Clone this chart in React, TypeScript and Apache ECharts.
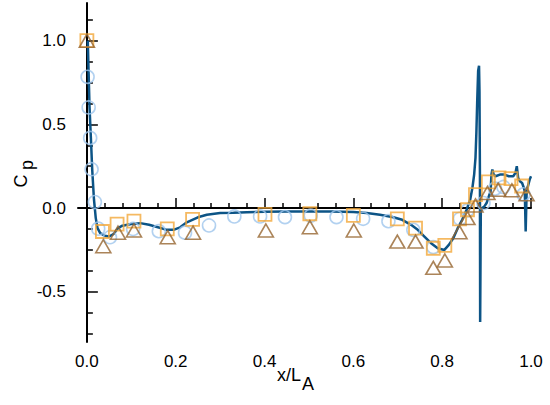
import React, { useEffect, useRef } from "react";
import * as echarts from "echarts";

// CFD pressure coefficient curve
const cfdX = [0.002, 0.004, 0.006, 0.009, 0.012, 0.016, 0.02, 0.024, 0.03, 0.04, 0.05, 0.06, 0.07, 0.08, 0.1, 0.12, 0.14, 0.16, 0.18, 0.195, 0.21, 0.225, 0.25, 0.27, 0.3, 0.33, 0.36, 0.4, 0.45, 0.5, 0.55, 0.6, 0.63, 0.66, 0.69, 0.71, 0.73, 0.745, 0.76, 0.775, 0.79, 0.805, 0.815, 0.825, 0.835, 0.845, 0.855, 0.863, 0.868, 0.872, 0.875, 0.877, 0.879, 0.881, 0.883, 0.884, 0.885, 0.8855, 0.887, 0.89, 0.895, 0.9, 0.905, 0.909, 0.911, 0.913, 0.916, 0.92, 0.93, 0.94, 0.95, 0.96, 0.965, 0.968, 0.971, 0.975, 0.98, 0.984, 0.986, 0.988, 0.99, 0.993, 0.997, 1.0];
const cfdY = [1.0, 0.8, 0.6, 0.42, 0.23, 0.05, -0.06, -0.12, -0.15, -0.165, -0.17, -0.155, -0.12, -0.105, -0.095, -0.09, -0.1, -0.115, -0.13, -0.13, -0.115, -0.085, -0.055, -0.04, -0.03, -0.028, -0.025, -0.022, -0.02, -0.02, -0.02, -0.024, -0.03, -0.04, -0.055, -0.07, -0.1, -0.13, -0.17, -0.21, -0.24, -0.25, -0.22, -0.18, -0.12, -0.07, -0.01, 0.05, 0.12, 0.2, 0.3, 0.45, 0.65, 0.82, 0.85, 0.7, 0.2, -0.68, -0.02, 0.0, 0.01, 0.03, 0.07, 0.1, 0.2, 0.23, 0.2, 0.19, 0.2, 0.2, 0.19, 0.19, 0.21, 0.25, 0.18, 0.16, 0.15, 0.12, 0.1, -0.14, 0.08, 0.13, 0.17, 0.19];

// Experiment set 1 (circles)
const circleX = [0.0016, 0.004, 0.0074, 0.0106, 0.018, 0.0255, 0.052, 0.104, 0.162, 0.221, 0.275, 0.332, 0.39, 0.446, 0.504, 0.562, 0.622, 0.679, 0.735, 0.78, 0.84, 0.857, 0.893, 0.919, 0.938, 0.983];
const circleY = [0.784, 0.601, 0.419, 0.232, 0.036, -0.123, -0.174, -0.125, -0.138, -0.147, -0.104, -0.05, -0.05, -0.054, -0.045, -0.054, -0.064, -0.078, -0.13, -0.233, -0.064, -0.014, 0.03, 0.116, 0.126, 0.082];

// Experiment set 2 (squares)
const squareX = [0.0, 0.035, 0.068, 0.106, 0.181, 0.238, 0.401, 0.502, 0.6, 0.699, 0.74, 0.78, 0.806, 0.839, 0.857, 0.875, 0.904, 0.928, 0.955, 0.979];
const squareY = [1.0, -0.14, -0.096, -0.078, -0.124, -0.068, -0.038, -0.034, -0.044, -0.064, -0.12, -0.24, -0.223, -0.064, -0.01, 0.08, 0.156, 0.18, 0.176, 0.132];

// Experiment set 3 (triangles)
const triangleX = [0.0, 0.037, 0.07, 0.106, 0.182, 0.239, 0.403, 0.502, 0.601, 0.699, 0.74, 0.78, 0.806, 0.839, 0.857, 0.875, 0.902, 0.926, 0.957, 0.99];
const triangleY = [1.0, -0.228, -0.147, -0.134, -0.174, -0.147, -0.134, -0.114, -0.134, -0.2, -0.2, -0.357, -0.313, -0.144, -0.06, 0.016, 0.09, 0.11, 0.106, 0.082];

// Axis ticks
const xMajorTicks = [0, 0.2, 0.4, 0.6, 0.8, 1.0];
const xMinorTicks = [0.04, 0.08, 0.12, 0.16, 0.24, 0.28, 0.32, 0.36, 0.44, 0.48, 0.52, 0.56, 0.64, 0.68, 0.72, 0.76, 0.84, 0.88, 0.92, 0.96];
const yMajorTicks = [-0.5, 0, 0.5, 1.0];
const yMinorTicks = [-0.75, -0.625, -0.375, -0.25, -0.125, 0.125, 0.25, 0.375, 0.625, 0.75, 0.875, 1.125];

const X_MIN = -0.02;
const X_MAX = 1.0;
const Y_MIN = -0.8;
const Y_MAX = 1.225;

const zip = (xs: number[], ys: number[]) => xs.map((x, i) => [x, ys[i]]);

const FONT = "'Liberation Sans', Arial, sans-serif";

export default function App() {
  const ref = useRef<HTMLDivElement>(null);

  useEffect(() => {
    if (!ref.current) return;
    const chart = echarts.init(ref.current, null, { renderer: "svg" });
    const axisLine = { show: true, lineStyle: { color: "#000", width: 2 } };
    const majorX = {
      type: "value",
      min: X_MIN,
      max: X_MAX,
      position: "bottom",
      axisLine,
      axisTick: { show: true, inside: true, length: 10, customValues: xMajorTicks, lineStyle: { color: "#000", width: 1.5 } },
      axisLabel: {
        show: true,
        customValues: xMajorTicks,
        margin: 11,
        color: "#000",
        fontSize: 17,
        fontFamily: FONT,
        formatter: (v: number) => v.toFixed(1),
      },
      splitLine: { show: false },
    };
    const minorX = {
      type: "value",
      min: X_MIN,
      max: X_MAX,
      position: "bottom",
      axisLine: { show: false },
      axisTick: { show: true, inside: true, length: 5, customValues: xMinorTicks, lineStyle: { color: "#000", width: 1.5 } },
      axisLabel: { show: false },
      splitLine: { show: false },
    };
    const majorY = {
      type: "value",
      min: Y_MIN,
      max: Y_MAX,
      position: "left",
      axisLine,
      axisTick: { show: true, inside: true, length: 11, customValues: yMajorTicks, lineStyle: { color: "#000", width: 1.5 } },
      axisLabel: {
        show: true,
        customValues: yMajorTicks,
        margin: 12,
        color: "#000",
        fontSize: 17,
        fontFamily: FONT,
        formatter: (v: number) => v.toFixed(1),
      },
      splitLine: { show: false },
    };
    const minorY = {
      type: "value",
      min: Y_MIN,
      max: Y_MAX,
      position: "left",
      axisLine: { show: false },
      axisTick: { show: true, inside: true, length: 6, customValues: yMinorTicks, lineStyle: { color: "#000", width: 1.5 } },
      axisLabel: { show: false },
      splitLine: { show: false },
    };

    chart.setOption({
      animation: false,
      backgroundColor: "#fff",
      grid: { left: 78, right: 19, top: 3, bottom: 63, containLabel: false },
      xAxis: [majorX, minorX],
      yAxis: [majorY, minorY],
      graphic: [
        { type: "text", left: 277, top: 366, style: { text: "x/L", fontSize: 18, fontFamily: FONT, fill: "#000" } },
        { type: "text", left: 302, top: 375, style: { text: "A", fontSize: 18, fontFamily: FONT, fill: "#000" } },
        { type: "text", x: 21, y: 181, rotation: Math.PI / 2, style: { text: "C", fontSize: 18, fontFamily: FONT, fill: "#000", align: "center", verticalAlign: "middle" } },
        { type: "text", x: 27, y: 165, rotation: Math.PI / 2, style: { text: "p", fontSize: 18, fontFamily: FONT, fill: "#000", align: "center", verticalAlign: "middle" } },
      ],
      series: [
        {
          type: "line",
          name: "CFD",
          xAxisIndex: 0,
          yAxisIndex: 0,
          data: zip(cfdX, cfdY),
          showSymbol: false,
          symbol: "none",
          lineStyle: { color: "#0c5486", width: 2.5 },
          z: 2,
        },
        {
          type: "scatter",
          name: "circles",
          xAxisIndex: 0,
          yAxisIndex: 0,
          data: zip(circleX, circleY),
          symbol: "circle",
          symbolSize: 13,
          itemStyle: { color: "rgba(255,255,255,0)", borderColor: "#9fc6ec", borderWidth: 1.6 },
          z: 3,
        },
        {
          type: "scatter",
          name: "squares",
          xAxisIndex: 0,
          yAxisIndex: 0,
          data: zip(squareX, squareY),
          symbol: "rect",
          symbolSize: 13,
          itemStyle: { color: "rgba(255,255,255,0)", borderColor: "#f2a83a", borderWidth: 1.8 },
          z: 4,
        },
        {
          type: "scatter",
          name: "triangles",
          xAxisIndex: 0,
          yAxisIndex: 0,
          data: zip(triangleX, triangleY),
          symbol: "triangle",
          symbolSize: [15, 13],
          itemStyle: { color: "rgba(255,255,255,0)", borderColor: "#96652f", borderWidth: 1.6 },
          z: 5,
        },
      ],
    });
    return () => chart.dispose();
  }, []);

  return <div ref={ref} style={{ position: "absolute", left: 0, top: 0, width: 550, height: 405 }} />;
}
